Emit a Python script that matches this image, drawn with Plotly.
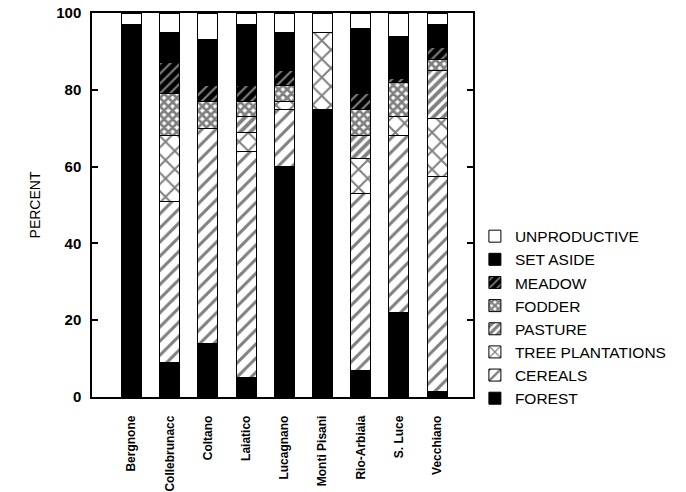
import plotly.graph_objects as go

sites = ["Bergnone", "Collebrunacc", "Coltano", "Laiatico", "Lucagnano",
         "Monti Pisani", "Rio-Arbiaia", "S. Luce", "Vecchiano"]

forest       = [97, 9, 14, 5, 60, 75, 7, 22, 1.5]
cereals      = [0, 42, 56, 59, 15, 0, 46, 46, 56]
tree_plant   = [0, 17, 0, 5, 2, 20, 9, 5, 15]
pasture      = [0, 0, 0, 4, 0, 0, 6, 0, 12.5]
fodder       = [0, 11, 7, 4, 4, 0, 7, 9, 3]
meadow       = [0, 8, 4, 4, 4, 0, 4, 1, 3]
set_aside    = [0, 8, 12, 16, 10, 0, 17, 11, 6]
unproductive = [3, 5, 7, 3, 5, 5, 4, 6, 3]

y_ticks = [0, 20, 40, 60, 80, 100]

series = [
    ("FOREST", forest, dict(color="black")),
    ("CEREALS", cereals, dict(color="white", pattern=dict(shape="/", fgcolor="black", bgcolor="white", size=10, solidity=0.3))),
    ("TREE PLANTATIONS", tree_plant, dict(color="white", pattern=dict(shape="x", fgcolor="black", bgcolor="white", size=13, solidity=0.28))),
    ("PASTURE", pasture, dict(color="white", pattern=dict(shape="/", fgcolor="black", bgcolor="white", size=7, solidity=0.55))),
    ("FODDER", fodder, dict(color="white", pattern=dict(shape="x", fgcolor="black", bgcolor="white", size=6, solidity=0.7))),
    ("MEADOW", meadow, dict(color="black", pattern=dict(shape="/", fgcolor="white", bgcolor="black", size=7, solidity=0.3))),
    ("SET ASIDE", set_aside, dict(color="black")),
    ("UNPRODUCTIVE", unproductive, dict(color="white")),
]

fig = go.Figure()
for name, vals, mk in series:
    mk = dict(mk)
    mk["line"] = dict(color="black", width=1)
    fig.add_trace(go.Bar(x=sites, y=vals, name=name, marker=mk, width=0.52))

font_family = "Liberation Sans, Arial, sans-serif"

fig.update_layout(
    width=686, height=492,
    margin=dict(l=92, r=213, t=13, b=95, autoexpand=False),
    barmode="stack",
    paper_bgcolor="white",
    plot_bgcolor="white",
    font=dict(family=font_family, color="black"),
    showlegend=True,
    legend=dict(
        traceorder="reversed",
        x=1.005, xanchor="left",
        y=0.462, yanchor="top",
        font=dict(size=15.5, family=font_family, color="black"),
        bgcolor="rgba(0,0,0,0)",
        borderwidth=0,
    ),
    xaxis=dict(
        range=[-1.034, 8.94],
        automargin=False,
        showline=True, linecolor="black", linewidth=1.5, mirror=True,
        ticks="", showgrid=False, zeroline=False,
        tickangle=-90,
        tickfont=dict(size=12, family=font_family, weight="bold"),
        ticklabelstandoff=12,
    ),
    yaxis=dict(
        range=[0, 100],
        automargin=False,
        tickvals=y_ticks,
        showline=True, linecolor="black", linewidth=1.5, mirror="ticks",
        ticks="inside", ticklen=6, tickcolor="black", tickwidth=1.5,
        showgrid=False, zeroline=False,
        tickfont=dict(size=15, family=font_family, weight="bold"),
        ticklabelstandoff=6,
        title=dict(text="PERCENT", font=dict(size=14, family=font_family), standoff=12),
    ),
)

fig.write_html("out.html", config={"displayModeBar": False},
               post_script="document.body.style.margin='0px';")
